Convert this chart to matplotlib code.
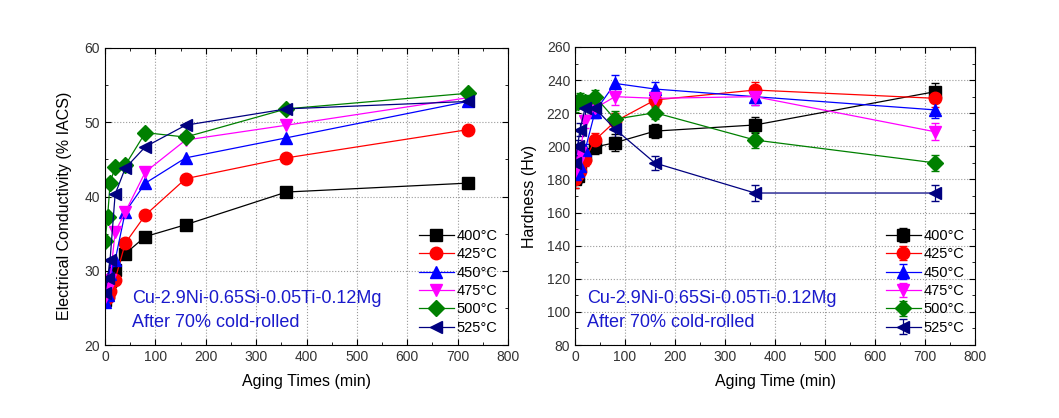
import numpy as np
import matplotlib
matplotlib.use('Agg')
import matplotlib.pyplot as plt
from matplotlib.ticker import MultipleLocator

plt.rcParams['font.family'] = ['Liberation Sans', 'DejaVu Sans']

# aging times (min)
times = [0, 5, 10, 20, 40, 80, 160, 360, 720]
labels = ['400°C', '425°C', '450°C', '475°C', '500°C', '525°C']

# electrical conductivity (% IACS)
ec_400 = [26.0, 27.0, 28.6, 30.1, 32.3, 34.6, 36.2, 40.6, 41.8]
ec_425 = [26.0, 26.5, 27.3, 28.8, 33.7, 37.5, 42.4, 45.2, 49.0]
ec_450 = [25.8, 26.8, 29.5, 31.4, 37.9, 41.8, 45.2, 47.9, 52.8]
ec_475 = [26.5, 27.5, 28.8, 35.2, 37.9, 43.3, 47.6, 49.6, 53.3]
ec_500 = [34.0, 37.2, 41.8, 44.0, 44.2, 48.6, 48.0, 51.8, 53.9]
ec_525 = [27.0, 29.0, 31.5, 40.3, 43.8, 46.7, 49.6, 51.8, 52.8]

# hardness (Hv)
hv_400 = [180, 182, 190, 195, 199.6, 202.2, 209.2, 212.9, 233]
hv_425 = [180, 183, 185, 192, 203.8, 215, 228, 234, 229]
hv_450 = [183, 185, 188, 197.6, 221, 238, 234.6, 230, 222]
hv_475 = [185, 190, 196, 215, 223, 230, 229, 230, 208.8]
hv_500 = [226, 227, 228, 227, 230, 216.4, 220.3, 203.8, 190]
hv_525 = [190, 200, 210, 223, 223, 210.4, 189.9, 171.8, 171.8]
hv_err = [5, 4, 4, 4, 4, 5, 4, 5, 5]

colors = ['black', 'red', 'blue', 'magenta', 'green', 'navy']
markers = ['s', 'o', '^', 'v', 'D', '<']
sizes = [8, 9, 9, 9, 8, 9]

fig = plt.figure(figsize=(10.59, 4.18), dpi=100)
ax1 = fig.add_axes([0.0992, 0.1746, 0.3805, 0.7106])
ax2 = fig.add_axes([0.543, 0.1746, 0.3777, 0.713])

ec_data = [ec_400, ec_425, ec_450, ec_475, ec_500, ec_525]
hv_data = [hv_400, hv_425, hv_450, hv_475, hv_500, hv_525]

for d, c, m, s, lab in zip(ec_data, colors, markers, sizes, labels):
    ax1.plot(times, d, color=c, marker=m, markersize=s, lw=0.9, label=lab,
             markeredgecolor=c)

for d, c, m, s, lab in zip(hv_data, colors, markers, sizes, labels):
    ax2.errorbar(times, d, yerr=hv_err, color=c, marker=m, markersize=s, lw=0.9,
                 label=lab, markeredgecolor=c, capsize=3, elinewidth=0.9)

ax1.set_xlim(0, 800)
ax1.set_ylim(20, 60)
ax1.xaxis.set_major_locator(MultipleLocator(100))
ax1.xaxis.set_minor_locator(MultipleLocator(50))
ax1.yaxis.set_major_locator(MultipleLocator(10))
ax1.yaxis.set_minor_locator(MultipleLocator(5))
ax1.set_xlabel('Aging Times (min)', fontsize=11.5)
ax1.set_ylabel('Electrical Conductivity (% IACS)', fontsize=11.5)
ax1.xaxis.set_label_coords(0.5, -0.098)
ax1.yaxis.set_label_coords(-0.082, 0.47)

ax2.set_xlim(0, 800)
ax2.set_ylim(80, 260)
ax2.xaxis.set_major_locator(MultipleLocator(100))
ax2.xaxis.set_minor_locator(MultipleLocator(50))
ax2.yaxis.set_major_locator(MultipleLocator(20))
ax2.yaxis.set_minor_locator(MultipleLocator(10))
ax2.set_xlabel('Aging Time (min)', fontsize=11.5)
ax2.set_ylabel('Hardness (Hv)', fontsize=11.5)
ax2.xaxis.set_label_coords(0.5, -0.098)
ax2.yaxis.set_label_coords(-0.095, 0.5)

for ax, tx in ((ax1, 0.067), (ax2, 0.03)):
    ax.tick_params(which='both', direction='in', top=True, right=True,
                   labelsize=10, colors='black', labelcolor='#333333')
    ax.tick_params(which='major', length=4)
    ax.tick_params(which='minor', length=2)
    ax.grid(True, which='major', ls=':', color='#999999', lw=0.8)
    ax.set_axisbelow(True)
    ax.text(tx, 0.155, 'Cu-2.9Ni-0.65Si-0.05Ti-0.12Mg', color='#1a1acc',
            fontsize=13, va='center', transform=ax.transAxes)
    ax.text(tx, 0.075, 'After 70% cold-rolled', color='#1a1acc',
            fontsize=13, va='center', transform=ax.transAxes)
    ax.legend(loc='lower right', frameon=False, fontsize=10.5, handlelength=2.4,
              labelspacing=0.3, handletextpad=0.2, borderaxespad=0.3)

fig.savefig('out.png', dpi=100)
